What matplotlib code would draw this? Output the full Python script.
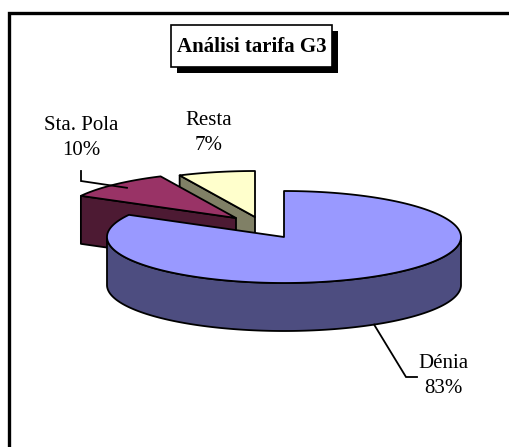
import numpy as np
import matplotlib.pyplot as plt
from matplotlib.patches import Polygon, Rectangle

# data
labels = ["Dénia", "Sta. Pola", "Resta"]
values = [83, 10, 7]
title = "Análisi tarifa G3"

# style
top_colors = ["#9999FF", "#993366", "#FFFFCC"]
side_colors = ["#4D4D80", "#4D1A33", "#808066"]
explode = [(0, 0), (-48, -19), (-29, -20)]   # pixel offsets of the pulled-out slices
label_pos = [(443, 376), (81, 138), (209, 133)]
leader_knee = [(406, 377), (81, 181), None]
leader_end = [(417, 377), (81, 171), None]
draw_order = [2, 1, 0]

W, H = 510, 447
CX, CY, RX, RY, DEPTH = 284, 237, 177, 46, 48
START = 90
LW = 1.3

plt.rcParams["font.family"] = ["Liberation Serif", "DejaVu Serif"]

fig = plt.figure(figsize=(W / 100, H / 100), dpi=100)
ax = fig.add_axes([0, 0, 1, 1])
ax.set_xlim(0, W)
ax.set_ylim(H, 0)
ax.axis("off")


def ell(t, cx, cy, r=1.0, dz=0.0):
    t = np.radians(np.atleast_1d(t))
    return np.column_stack([cx + r * RX * np.cos(t), cy - r * RY * np.sin(t) + dz])


def poly(pts, color, z):
    ax.add_patch(Polygon(pts, closed=True, facecolor=color, edgecolor="black",
                         lw=LW, joinstyle="round", zorder=z))


total = float(sum(values))
cum = np.concatenate([[0], np.cumsum(values)]) / total * 360
z = 2
for i in draw_order:
    a0 = START - cum[i]        # counter-clockwise end
    a1 = START - cum[i + 1]    # clockwise end
    cx, cy = CX + explode[i][0], CY + explode[i][1]
    centre = np.array([[cx, cy]])
    down = np.array([[0, DEPTH]])

    # radial cut faces that face the viewer
    for a, vis in [(a0, np.cos(np.radians(a0)) < -1e-6), (a1, np.cos(np.radians(a1)) > 1e-6)]:
        if vis:
            rim = ell(a, cx, cy)
            poly(np.vstack([centre, rim, rim + down, centre + down]), side_colors[i], z)
            z += 1

    # outer rim side (front half only)
    t = np.linspace(a1, a0, 600)
    front = t[np.sin(np.radians(t)) <= 0]
    if len(front) > 1:
        rim = ell(front, cx, cy)
        poly(np.vstack([rim, (rim + down)[::-1]]), side_colors[i], z)
        z += 1

    # top face
    poly(np.vstack([centre, ell(t, cx, cy)]), top_colors[i], z)
    z += 1

# labels and leader lines
for i in range(len(values)):
    pct = "%d%%" % round(values[i] / total * 100)
    lx, ly = label_pos[i]
    ax.text(lx, ly, labels[i] + "\n" + pct, ha="center", va="center",
            fontsize=15, linespacing=1.45, zorder=20)
    if leader_knee[i] is not None:
        mid = START - (cum[i] + cum[i + 1]) / 2
        cx, cy = CX + explode[i][0], CY + explode[i][1]
        if np.sin(np.radians(mid)) < 0:
            s = ell(mid, cx, cy, dz=DEPTH)[0]
        else:
            s = ell(mid, cx, cy, r=0.9)[0]
        xs = [s[0], leader_knee[i][0], leader_end[i][0]]
        ys = [s[1], leader_knee[i][1], leader_end[i][1]]
        ax.plot(xs, ys, color="black", lw=LW, zorder=20, solid_joinstyle="miter")

# title box with shadow
ax.add_patch(Rectangle((177, 31), 161, 42, facecolor="black", edgecolor="none", zorder=30))
ax.add_patch(Rectangle((171, 25), 161, 42, facecolor="white", edgecolor="black", lw=1.2, zorder=31))
ax.text(251.5, 46.5, title, ha="center", va="center", fontsize=15,
        fontweight="bold", zorder=32)

# chart area frame (only the left and top edges fall inside the picture)
ax.plot([9, 9, W + 5], [H + 5, 13.3, 13.3], color="black", lw=2.4,
        solid_joinstyle="miter", solid_capstyle="butt", zorder=40)

fig.savefig("out.png", dpi=100)
